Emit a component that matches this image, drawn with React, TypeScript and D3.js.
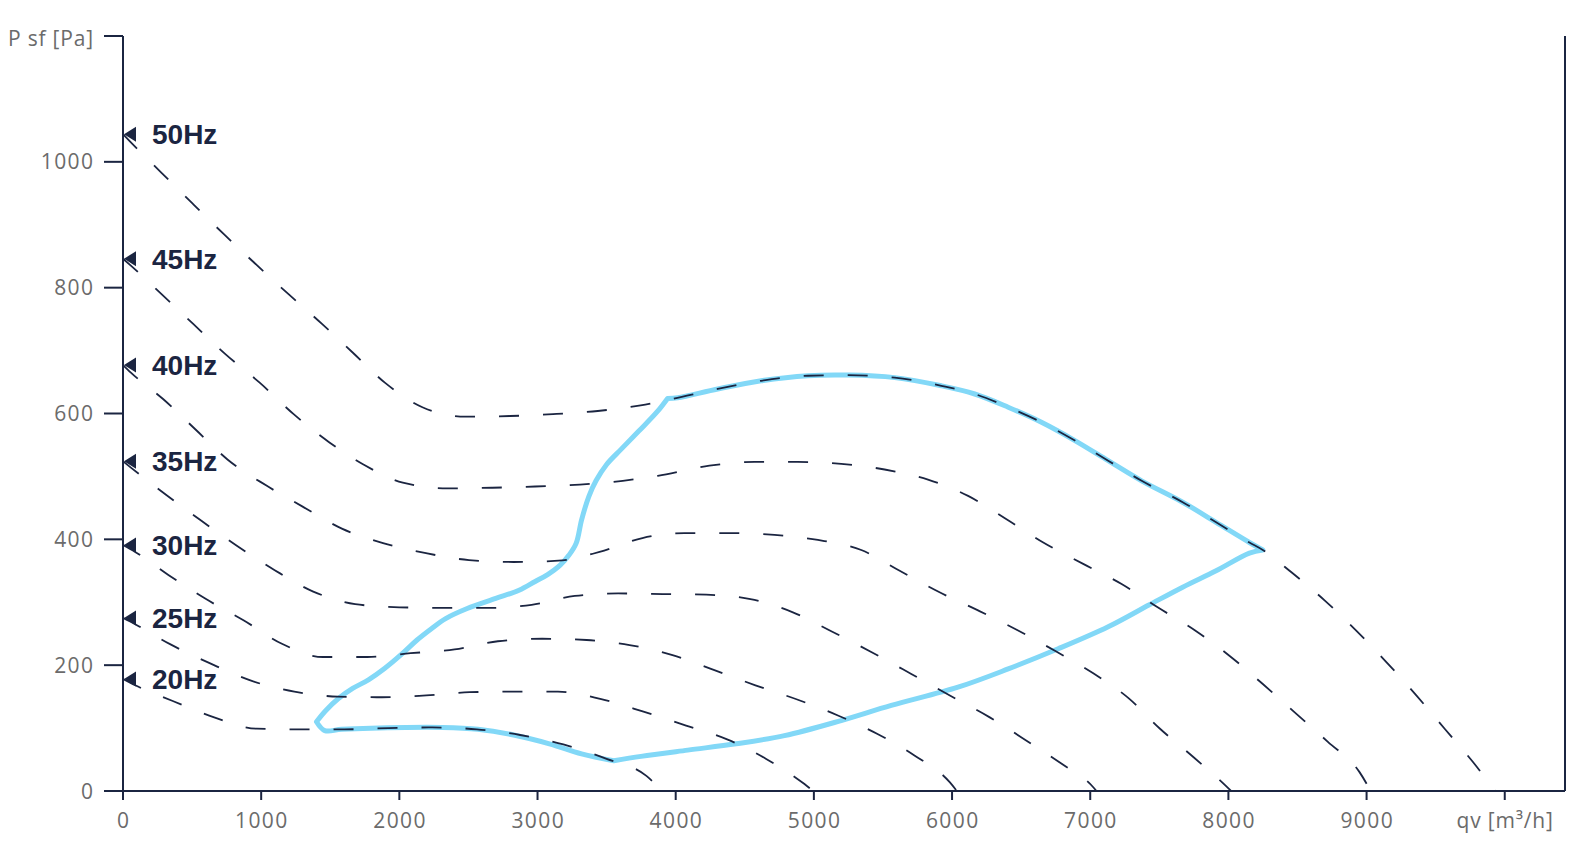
import React from 'react';
import * as d3 from 'd3';

type P = [number, number];

// Frequency curve labels (top to bottom)
const hzLabels = ['50Hz', '45Hz', '40Hz', '35Hz', '30Hz', '25Hz', '20Hz'];

// Fan curves: [qv m3/h, Psf Pa]
const curve50: P[] = [
  [0, 1044], [57, 1031], [277, 983], [497, 935], [730, 885], [963, 837], [1196, 790],
  [1442, 742], [1662, 697], [1895, 649], [2167, 610], [2478, 595], [2801, 596], [3112, 599],
  [3436, 604], [3746, 613], [3954, 622], [4304, 639], [4618, 652], [4957, 660], [5246, 661],
  [5585, 657], [5923, 644], [6164, 631], [6406, 610], [6647, 586], [6889, 557], [7130, 525],
  [7372, 493], [7669, 459], [7911, 427], [8152, 395], [8249, 383], [8454, 348], [8696, 303],
  [8925, 255], [9143, 205], [9360, 152], [9565, 99], [9770, 46], [9930, 0],
];
const curve45: P[] = [
  [0, 846], [57, 835], [277, 790], [510, 742], [743, 694], [989, 649], [1235, 599],
  [1494, 554], [1740, 519], [2025, 490], [2348, 481], [2672, 482], [2983, 484], [3306, 487],
  [3617, 493], [3870, 501], [4244, 517], [4570, 523], [4884, 523], [5198, 520], [5512, 511],
  [5826, 495], [6116, 469], [6394, 432], [6660, 395], [6949, 361], [7227, 329], [7488, 292],
  [7754, 256], [8007, 215], [8249, 170], [8490, 123], [8720, 78], [8949, 30], [9030, 0],
];
const curve40: P[] = [
  [0, 677], [57, 665], [290, 623], [523, 575], [756, 527], [1041, 485], [1300, 452],
  [1584, 417], [1882, 394], [2193, 378], [2504, 367], [2827, 364], [3151, 366], [3449, 380],
  [3759, 402], [4063, 410], [4389, 410], [4715, 407], [5029, 399], [5343, 383], [5621, 350],
  [5899, 317], [6188, 287], [6471, 256], [6751, 222], [7022, 187], [7275, 148], [7505, 99],
  [7746, 54], [7978, 9], [8020, 0],
];
const curve35: P[] = [
  [0, 524], [57, 514], [311, 471], [570, 429], [829, 389], [1098, 351], [1377, 317],
  [1680, 297], [2001, 292], [2315, 291], [2638, 291], [2957, 296], [3270, 310], [3583, 314],
  [3907, 313], [4220, 312], [4541, 305], [4848, 284], [5126, 254], [5415, 221], [5705, 186],
  [6007, 149], [6273, 117], [6539, 80], [6788, 44], [7022, 6], [7045, 0],
];
const curve30: P[] = [
  [0, 391], [88, 380], [331, 343], [601, 305], [875, 271], [1150, 234], [1447, 213],
  [1768, 213], [2082, 219], [2400, 225], [2713, 238], [3034, 242], [3355, 240], [3666, 232],
  [3977, 216], [4280, 192], [4577, 168], [4884, 145], [5174, 120], [5457, 91], [5725, 57],
  [5983, 14], [6035, 0],
];
const curve25: P[] = [
  [0, 275], [88, 265], [344, 233], [639, 202], [932, 175], [1240, 158], [1556, 150],
  [1874, 149], [2195, 152], [2509, 157], [2830, 158], [3148, 158], [3461, 146], [3767, 126],
  [4075, 104], [4372, 82], [4655, 51], [4932, 11], [4995, 0],
];
const curve20: P[] = [
  [0, 178], [88, 168], [360, 143], [660, 117], [968, 99], [1284, 98], [1603, 98],
  [1921, 100], [2237, 101], [2561, 98], [2874, 89], [3187, 74], [3500, 51], [3788, 24],
  [3900, 0],
];
const curves: P[][] = [curve50, curve45, curve40, curve35, curve30, curve25, curve20];

// Operating envelope (closed), in four smooth pieces
const envTop: P[] = [
  [3941, 624], [4014, 625], [4304, 639], [4618, 652], [4957, 660], [5246, 661], [5585, 657],
  [5923, 644], [6164, 631], [6406, 610], [6647, 586], [6889, 557], [7130, 525], [7372, 493],
  [7669, 459], [7911, 427], [8152, 395], [8249, 383],
];
const envRight: P[] = [
  [8249, 383], [8152, 378], [7911, 350], [7669, 324], [7428, 296], [7130, 261], [6768, 226],
  [6406, 194], [6043, 165], [5560, 136], [5198, 112], [4787, 88], [4437, 75], [4087, 65],
  [3749, 55], [3552, 48],
];
const envBottom: P[] = [
  [3552, 48], [3319, 59], [3086, 75], [2827, 89], [2568, 98], [2309, 101], [2050, 101],
  [1584, 98], [1460, 96], [1400, 110],
];
const envLeft: P[] = [
  [1400, 110], [1468, 128], [1559, 147], [1662, 163], [1779, 177], [1895, 195], [2025, 219],
  [2128, 240], [2232, 258], [2335, 274], [2491, 290], [2698, 306], [2866, 319], [2983, 333],
  [3073, 344], [3164, 359], [3228, 375], [3280, 394], [3319, 431], [3371, 468], [3423, 493],
  [3500, 519], [3604, 543], [3733, 572], [3863, 602], [3941, 624],
];

const xTicks = [0, 1000, 2000, 3000, 4000, 5000, 6000, 7000, 8000, 9000, 10000];
const yTicks = [0, 200, 400, 600, 800, 1000, 1200];
const xTitle = 'qv [m³/h]';
const yTitle = 'P sf [Pa]';

const NAVY = '#1b2541';
const GREY = '#6b6b6b';
const BLUE = '#82d8f7';
const AXIS_FONT = '"Open Sans", "Noto Sans", sans-serif';
const LABEL_FONT = '"Liberation Sans", Arial, sans-serif';
const NUM_LS = 1.4;
const TITLE_LS = 0.8;

export default function App() {
  const x = d3.scaleLinear().domain([0, 10436]).range([123, 1565]);
  const y = d3.scaleLinear().domain([0, 1200]).range([791, 36]);

  const line = d3
    .line<P>()
    .x((d) => x(d[0]))
    .y((d) => y(d[1]))
    .curve(d3.curveMonotoneX);

  const seg = d3
    .line<P>()
    .x((d) => x(d[0]))
    .y((d) => y(d[1]))
    .curve(d3.curveCatmullRom.alpha(0.5));

  const envPath = [envTop, envRight, envBottom, envLeft]
    .map((s, i) => {
      const p = seg(s) || '';
      return i === 0 ? p : 'L' + p.slice(1);
    })
    .join('') + 'Z';

  const x0 = x(0);
  const yBase = y(0);

  return (
    <svg
      width={1586}
      height={848}
      style={{ position: 'absolute', left: 0, top: 0, display: 'block', background: '#fff' }}
    >
      {/* envelope */}
      <path d={envPath} fill="none" stroke={BLUE} strokeWidth={5} strokeLinejoin="round" />

      {/* fan curves */}
      {curves.map((c, i) => (
        <path
          key={i}
          d={line(c) || ''}
          fill="none"
          stroke={NAVY}
          strokeWidth={1.8}
          strokeDasharray="20 24"
        />
      ))}

      {/* y axis */}
      <line x1={x0} x2={x0} y1={y(1200)} y2={yBase + 9} stroke={NAVY} strokeWidth={2} />
      {yTicks.map((t) => {
        const isTitle = t === 1200;
        const ls = isTitle ? TITLE_LS : NUM_LS;
        return (
          <g key={t}>
            <line x1={x0 - 19} x2={x0} y1={y(t)} y2={y(t)} stroke={NAVY} strokeWidth={2} />
            <text
              x={93 + ls}
              y={isTitle ? y(t) + 10 : y(t) + 7.5}
              textAnchor="end"
              fontFamily={AXIS_FONT}
              fontSize={21}
              letterSpacing={ls}
              fill={GREY}
            >
              {isTitle ? yTitle : String(t)}
            </text>
          </g>
        );
      })}

      {/* x axis */}
      <line x1={x0 - 19} x2={x(10436)} y1={yBase} y2={yBase} stroke={NAVY} strokeWidth={2} />
      <line x1={x(10436)} x2={x(10436)} y1={y(1200)} y2={yBase} stroke={NAVY} strokeWidth={2} />
      {xTicks.map((t) => {
        const isTitle = t === 10000;
        const ls = isTitle ? TITLE_LS : NUM_LS;
        return (
          <g key={t}>
            <line x1={x(t)} x2={x(t)} y1={yBase} y2={yBase + 9} stroke={NAVY} strokeWidth={2} />
            <text
              x={x(t) + ls / 2}
              y={828}
              textAnchor="middle"
              fontFamily={AXIS_FONT}
              fontSize={21}
              letterSpacing={ls}
              fill={GREY}
            >
              {isTitle ? xTitle : String(t)}
            </text>
          </g>
        );
      })}

      {/* frequency markers and labels */}
      {curves.map((c, i) => {
        const ty = y(c[0][1]);
        return (
          <g key={'lab' + i}>
            <path
              d={`M${x0 + 1},${ty} L${x0 + 13},${ty - 7.5} L${x0 + 13},${ty + 7.5} Z`}
              fill={NAVY}
            />
            <text
              x={152}
              y={ty + 9.8}
              fontFamily={LABEL_FONT}
              fontWeight="bold"
              fontSize={28}
              fill={NAVY}
            >
              {hzLabels[i]}
            </text>
          </g>
        );
      })}
    </svg>
  );
}
